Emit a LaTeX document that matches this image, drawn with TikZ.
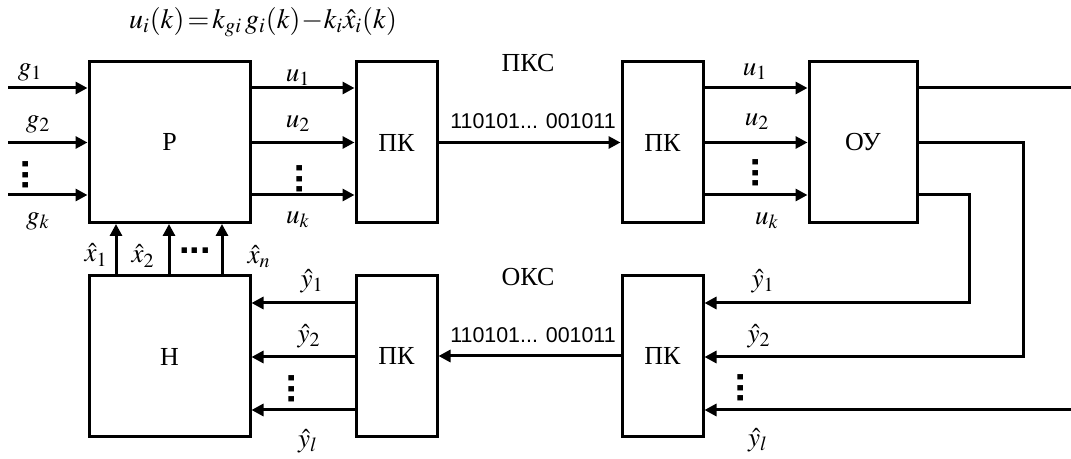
\documentclass[tikz,border=0pt]{standalone}
\usepackage{mathptmx}
\usepackage{fontspec}
\setmainfont{Liberation Serif}
\setsansfont{Liberation Sans}
\usetikzlibrary{arrows.meta}

\begin{document}
\begin{tikzpicture}[x=0.5pt,y=-0.5pt]
                    \tikzstyle{every node}=[font=\fontsize{13}{15}\selectfont] \tikzstyle{block} =
                    [rectangle, draw=black, line width=1.5pt, inner sep=0pt] \tikzstyle{edge} =
                    [-{Triangle[length=6pt,width=6pt]}, line width=1.5pt] \tikzstyle{wire} =
                    [line width=1.5pt] \tikzstyle{lbl} = [font=\fontsize{13.5}{15}\selectfont, inner sep=0pt]
                    \tikzstyle{bits} = [font=\fontsize{10.7}{12}\sffamily, inner sep=0pt]
                    \tikzstyle{dots} = [font=\fontsize{19}{19}\sffamily\bfseries, inner sep=0pt]

                    \useasboundingbox (0,0) rectangle (1071,459);

                    % blocks
                    \node[block, minimum width=80.5pt, minimum height=80.5pt](r) at (169.5,142) {Р};
                    \node[block, minimum width=80.5pt, minimum height=80.5pt](n) at (169.5,356.5) {Н};
                    \node[block, minimum width=40.5pt, minimum height=80.5pt](pk1) at (396.5,142.5) {ПК};
                    \node[block, minimum width=40.5pt, minimum height=80.5pt](pk2) at (662.5,142.5) {ПК};
                    \node[block, minimum width=54pt, minimum height=80.5pt](ou) at (863,142.5) {ОУ};
                    \node[block, minimum width=40.5pt, minimum height=80.5pt](pk3) at (662.5,356) {ПК};
                    \node[block, minimum width=40.5pt, minimum height=80.5pt](pk4) at (396.5,356) {ПК};

                    % levels and free ends
                    \coordinate (a1) at (0,88); \coordinate (a2) at (0,142.5); \coordinate (a3) at (0,195);
                    \coordinate (b1) at (0,303); \coordinate (b2) at (0,357); \coordinate (b3) at (0,410);
                    \coordinate (s1) at (116,0); \coordinate (s2) at (169,0); \coordinate (s3) at (222,0);
                    \coordinate (in1) at (8,88); \coordinate (in2) at (8,142.5); \coordinate (in3) at (8,195);
                    \coordinate (out1) at (1071,88); \coordinate (in4) at (1071,410);
                    \coordinate (t1) at (969,303); \coordinate (t2) at (1023,357);

                    % forward channel
                    \draw[edge] (in1) -- (r.west |- in1);
                    \draw[edge] (in2) -- (r.west |- in2);
                    \draw[edge] (in3) -- (r.west |- in3);
                    \draw[edge] (r.east |- a1) -- (pk1.west |- a1);
                    \draw[edge] (r.east |- a2) -- (pk1.west |- a2);
                    \draw[edge] (r.east |- a3) -- (pk1.west |- a3);
                    \draw[edge] (pk1) -- (pk2);
                    \draw[edge] (pk2.east |- a1) -- (ou.west |- a1);
                    \draw[edge] (pk2.east |- a2) -- (ou.west |- a2);
                    \draw[edge] (pk2.east |- a3) -- (ou.west |- a3);
                    \draw[wire] (ou.east |- a1) -- (out1);

                    % feedback channel
                    \draw[edge] (ou.east |- a3) -| (t1) -- (pk3.east |- t1);
                    \draw[edge] (ou.east |- a2) -| (t2) -- (pk3.east |- t2);
                    \draw[edge] (in4) -- (pk3.east |- in4);
                    \draw[edge] (pk3) -- (pk4);
                    \draw[edge] (pk4.west |- b1) -- (n.east |- b1);
                    \draw[edge] (pk4.west |- b2) -- (n.east |- b2);
                    \draw[edge] (pk4.west |- b3) -- (n.east |- b3);
                    \draw[edge] (n.north -| s1) -- (r.south -| s1);
                    \draw[edge] (n.north -| s2) -- (r.south -| s2);
                    \draw[edge] (n.north -| s3) -- (r.south -| s3);

                    % labels
                    \node[font=\fontsize{14}{16}\selectfont, inner sep=0pt](law) at (263,22)
                    {$u_i(k)\!=\!k_{gi}\,g_i(k)\!-\!k_i\hat{x}_i(k)$};
                    \node[inner sep=0pt](pks) at (528,63) {ПКС};
                    \node[inner sep=0pt](oks) at (528,277.5) {ОКС};
                    \node[bits](code1) at (533,121.5) {110101... 001011};
                    \node[bits](code2) at (533,335.5) {110101... 001011};

                    \node[lbl](g1) at (30,72) {$g_1$};
                    \node[lbl](g2) at (38,124) {$g_2$};
                    \node[dots, rotate=90](gd) at (26,175) {...};
                    \node[lbl](gk) at (38,221) {$g_k$};

                    \node[lbl](u1) at (298,78) {$u_1$};
                    \node[lbl](u2) at (298,124) {$u_2$};
                    \node[dots, rotate=90](ud) at (300,179) {...};
                    \node[lbl](uk) at (298,220) {$u_k$};

                    \node[lbl](v1) at (755,72) {$u_1$};
                    \node[lbl](v2) at (757,122) {$u_2$};
                    \node[dots, rotate=90](vd) at (756,173) {...};
                    \node[lbl](vk) at (767,221) {$u_k$};

                    \node[lbl](y1) at (312,281) {$\hat{y}_1$};
                    \node[lbl](y2) at (309,336) {$\hat{y}_2$};
                    \node[dots, rotate=90](yd) at (292,389) {...};
                    \node[lbl](yl) at (308,441) {$\hat{y}_l$};

                    \node[lbl](w1) at (763,281) {$\hat{y}_1$};
                    \node[lbl](w2) at (759,336) {$\hat{y}_2$};
                    \node[dots, rotate=90](wd) at (741,388) {...};
                    \node[lbl](wl) at (758,440) {$\hat{y}_l$};

                    \node[lbl](x1) at (96,255) {$\hat{x}_1$};
                    \node[lbl](x2) at (143,256) {$\hat{x}_2$};
                    \node[dots](xd) at (195,251) {...};
                    \node[lbl](xn) at (259,257) {$\hat{x}_n$};
            \end{tikzpicture}
\end{document}
